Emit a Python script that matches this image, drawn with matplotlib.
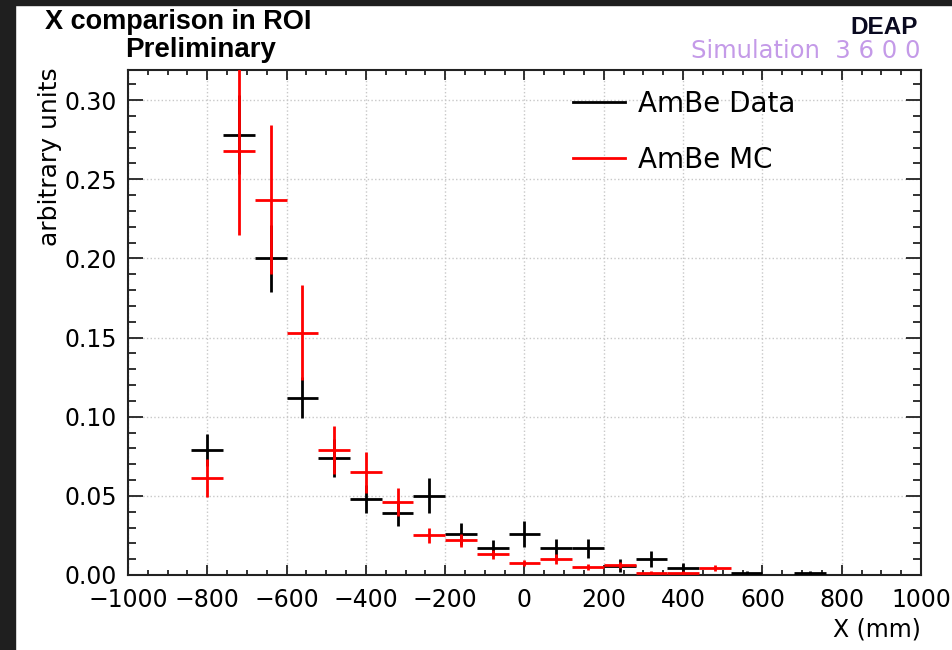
import matplotlib
matplotlib.use("Agg")
import matplotlib.pyplot as plt
from matplotlib.patches import Rectangle
from matplotlib.lines import Line2D
from matplotlib.ticker import MultipleLocator, FormatStrFormatter
import numpy as np

plt.rcParams["font.family"] = ["DejaVu Sans"]

# bin centers (80 mm bins from -1000 to 1000)
x_centers = [-960, -880, -800, -720, -640, -560, -480, -400, -320, -240, -160, -80, 0,
             80, 160, 240, 320, 400, 480, 560, 640, 720, 800, 880, 960]
half_width = 40

data_vals = [0, 0, 0.079, 0.278, 0.200, 0.112, 0.074, 0.048, 0.039, 0.050, 0.026, 0.017, 0.026,
             0.017, 0.017, 0.006, 0.010, 0.0045, 0, 0.0012, 0, 0.0012, 0, 0, 0]
data_errs = [0, 0, 0.010, 0.025, 0.021, 0.013, 0.012, 0.009, 0.008, 0.011, 0.007, 0.005, 0.008,
             0.006, 0.006, 0.004, 0.005, 0.003, 0, 0.0012, 0, 0.0012, 0, 0, 0]

mc_vals = [0, 0, 0.061, 0.268, 0.237, 0.153, 0.079, 0.065, 0.046, 0.025, 0.022, 0.013, 0.0075,
           0.010, 0.005, 0.0063, 0.0015, 0.0015, 0.0045, 0, 0, 0, 0, 0, 0]
mc_errs = [0, 0, 0.012, 0.053, 0.047, 0.030, 0.015, 0.013, 0.009, 0.005, 0.004, 0.003, 0.002,
           0.003, 0.002, 0.002, 0.001, 0.001, 0.002, 0, 0, 0, 0, 0, 0]


def nonzero(vals, errs):
	xs = np.array(x_centers, dtype=float)
	v = np.array(vals)
	e = np.array(errs)
	m = v > 0
	return xs[m], v[m], e[m]


fig = plt.figure(figsize=(9.53, 6.5), dpi=100)
fig.patch.set_facecolor("white")

# dark screenshot border (left and top)
fig.patches.append(Rectangle((0, 0), 15 / 953, 1, transform=fig.transFigure, color="#1f1f1f", zorder=-5))
fig.patches.append(Rectangle((0, 645 / 650), 1, 5 / 650, transform=fig.transFigure, color="#1f1f1f", zorder=-5))

ax = fig.add_axes([128 / 953, 75 / 650, 793 / 953, 505 / 650])

xd, vd, ed = nonzero(data_vals, data_errs)
ax.errorbar(xd, vd, xerr=half_width, yerr=ed, fmt="none", ecolor="black", elinewidth=2, capsize=0, zorder=3)
xm, vm, em = nonzero(mc_vals, mc_errs)
ax.errorbar(xm, vm, xerr=half_width, yerr=em, fmt="none", ecolor="red", elinewidth=2, capsize=0, zorder=4)

ax.set_xlim(-1000, 1000)
ax.set_ylim(0, 0.319)

ax.xaxis.set_major_locator(MultipleLocator(200))
ax.xaxis.set_minor_locator(MultipleLocator(50))
ax.yaxis.set_major_locator(MultipleLocator(0.05))
ax.yaxis.set_minor_locator(MultipleLocator(0.01))
ax.yaxis.set_major_formatter(FormatStrFormatter("%.2f"))

ax.tick_params(axis="both", which="both", direction="in", top=True, right=True, width=1.3, color="#222222")
ax.tick_params(axis="x", which="major", length=7.5, labelsize=17, pad=9.5)
ax.tick_params(axis="x", which="minor", length=3.8)
ax.tick_params(axis="y", which="major", length=11, labelsize=17, pad=8)
ax.tick_params(axis="y", which="minor", length=6)
for sp in ax.spines.values():
	sp.set_linewidth(1.5)
	sp.set_color("#222222")

ax.grid(True, which="major", linestyle=":", color="#c8c8c8", linewidth=1)
ax.set_axisbelow(True)

ax.set_xlabel("X (mm)", fontsize=17, loc="right")
ax.xaxis.set_label_coords(1.0, -0.085)
ax.set_ylabel("arbitrary units", fontsize=18, loc="top")
ax.yaxis.set_label_coords(-0.083, 1.005)

handles = [Line2D([], [], color="black", linewidth=2), Line2D([], [], color="red", linewidth=2)]
ax.legend(handles, ["AmBe Data", "AmBe MC"], loc="upper left", bbox_to_anchor=(0.53, 1.01),
          frameon=False, fontsize=20, handlelength=1.87, handletextpad=0.45, labelspacing=1.0)

fig.text(45 / 953, 1 - 22 / 650, "X comparison in ROI", fontsize=19.5, fontweight="bold",
         family="Liberation Sans", ha="left", va="center")
fig.text(125 / 953, 1 - 50 / 650, "Preliminary", fontsize=20, fontweight="bold",
         family="Liberation Sans", ha="left", va="center")
fig.text(918 / 953, 1 - 28 / 650, "DEAP", fontsize=17.5, fontweight="bold", color="#0a0a20",
         family="Liberation Sans", ha="right", va="center")
fig.text(921 / 953, 1 - 51 / 650, "Simulation  3 6 0 0", fontsize=17.5, color="#c49ae8", ha="right", va="center")

fig.savefig("out.png", dpi=100)
